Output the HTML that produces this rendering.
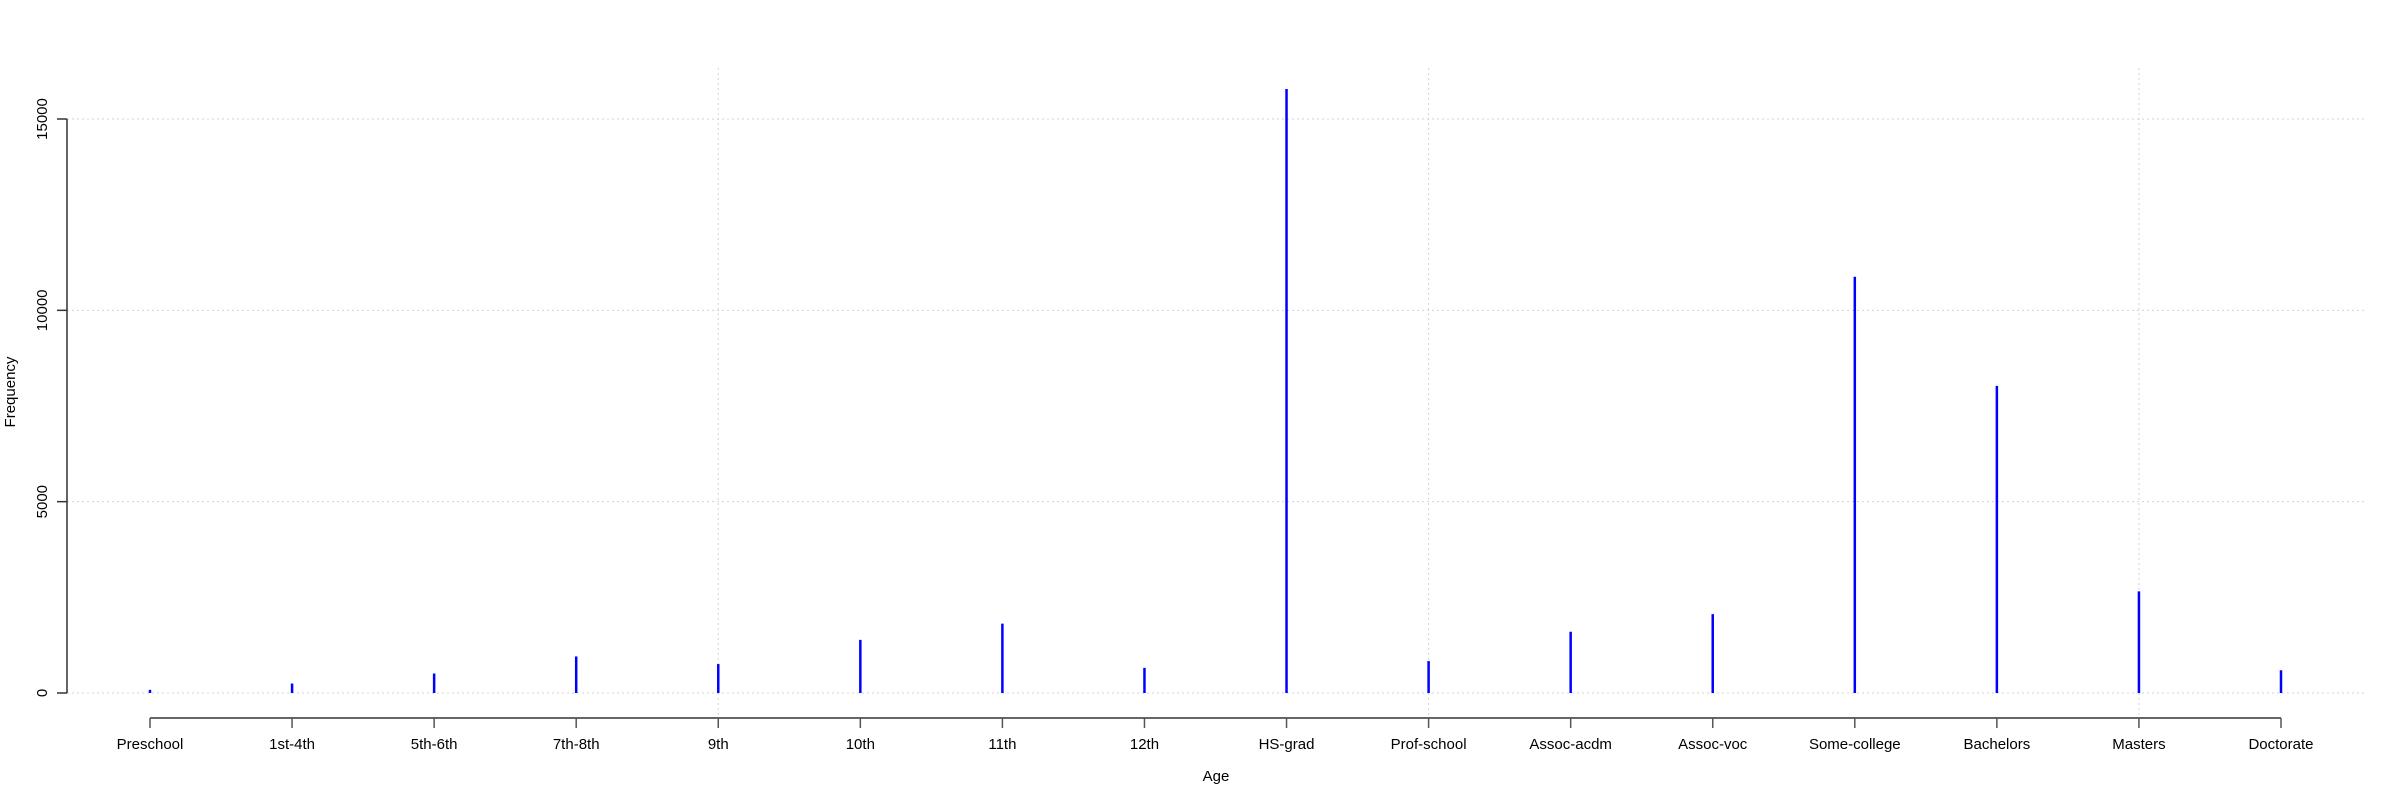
<!DOCTYPE html>
<html><head><meta charset="utf-8"><style>html,body{margin:0;padding:0;background:#fff}svg{display:block;font-family:"Liberation Sans",sans-serif}</style></head>
<body>
<svg id="chart" width="2400" height="800"></svg>
<script>
const categories=["Preschool","1st-4th","5th-6th","7th-8th","9th","10th","11th","12th","HS-grad","Prof-school","Assoc-acdm","Assoc-voc","Some-college","Bachelors","Masters","Doctorate"];
const frequencies=[83,247,509,955,756,1389,1812,657,15784,834,1601,2061,10878,8025,2657,594];
const yTicks=[0,5000,10000,15000];
const vGridCats=["9th","Prof-school","Masters"];
const NS="http://www.w3.org/2000/svg";
const svg=document.getElementById('chart');
const x0=150,x1=2281,yBase=693,yTop=119;
function xs(i){return x0+(x1-x0)*i/(categories.length-1);}
function ys(v){return yBase-(yBase-yTop)*v/15000;}
function mk(t,a,p){const e=document.createElementNS(NS,t);for(const k in a)e.setAttribute(k,a[k]);(p||svg).appendChild(e);return e;}
const grid=mk('g',{});


yTicks.forEach(v=>{const l=mk('line',{x1:67,x2:2365,y1:ys(v),y2:ys(v),stroke:'#d3d3d3','stroke-dasharray':'2,3','stroke-width':1},grid);

});
vGridCats.forEach(c=>{const x=xs(categories.indexOf(c));const l=mk('line',{x1:x,x2:x,y1:68,y2:718,stroke:'#d3d3d3','stroke-dasharray':'2,3','stroke-width':1},grid);

});
const ya=mk('g',{});


mk('line',{x1:67,x2:67,y1:ys(15000),y2:ys(0),stroke:'#333','stroke-width':1.5},ya);
yTicks.forEach(v=>{mk('line',{x1:57,x2:67,y1:ys(v),y2:ys(v),stroke:'#333','stroke-width':1.5},ya);
const t=mk('text',{x:0,y:0,transform:`translate(47,${ys(v)}) rotate(-90)`,'text-anchor':'middle','font-size':15},ya);t.textContent=v;

});
const xa=mk('g',{});


mk('line',{x1:x0,x2:x1,y1:718,y2:718,stroke:'#333','stroke-width':1.5},xa);
categories.forEach((c,i)=>{mk('line',{x1:xs(i),x2:xs(i),y1:718,y2:728,stroke:'#555','stroke-width':1.5},xa);
const t=mk('text',{x:xs(i),y:749,'text-anchor':'middle','font-size':15},xa);t.textContent=c;

});
const bars=mk('g',{});


frequencies.forEach((v,i)=>{const l=mk('line',{x1:xs(i),x2:xs(i),y1:ys(0),y2:ys(v),stroke:'#0000ff','stroke-width':2.5},bars);

});
const xt=mk('text',{x:1216,y:781,'text-anchor':'middle','font-size':15});xt.textContent='Age';


const yt=mk('text',{x:0,y:0,transform:'translate(15,392) rotate(-90)','text-anchor':'middle','font-size':15});yt.textContent='Frequency';


</script>
</body></html>
